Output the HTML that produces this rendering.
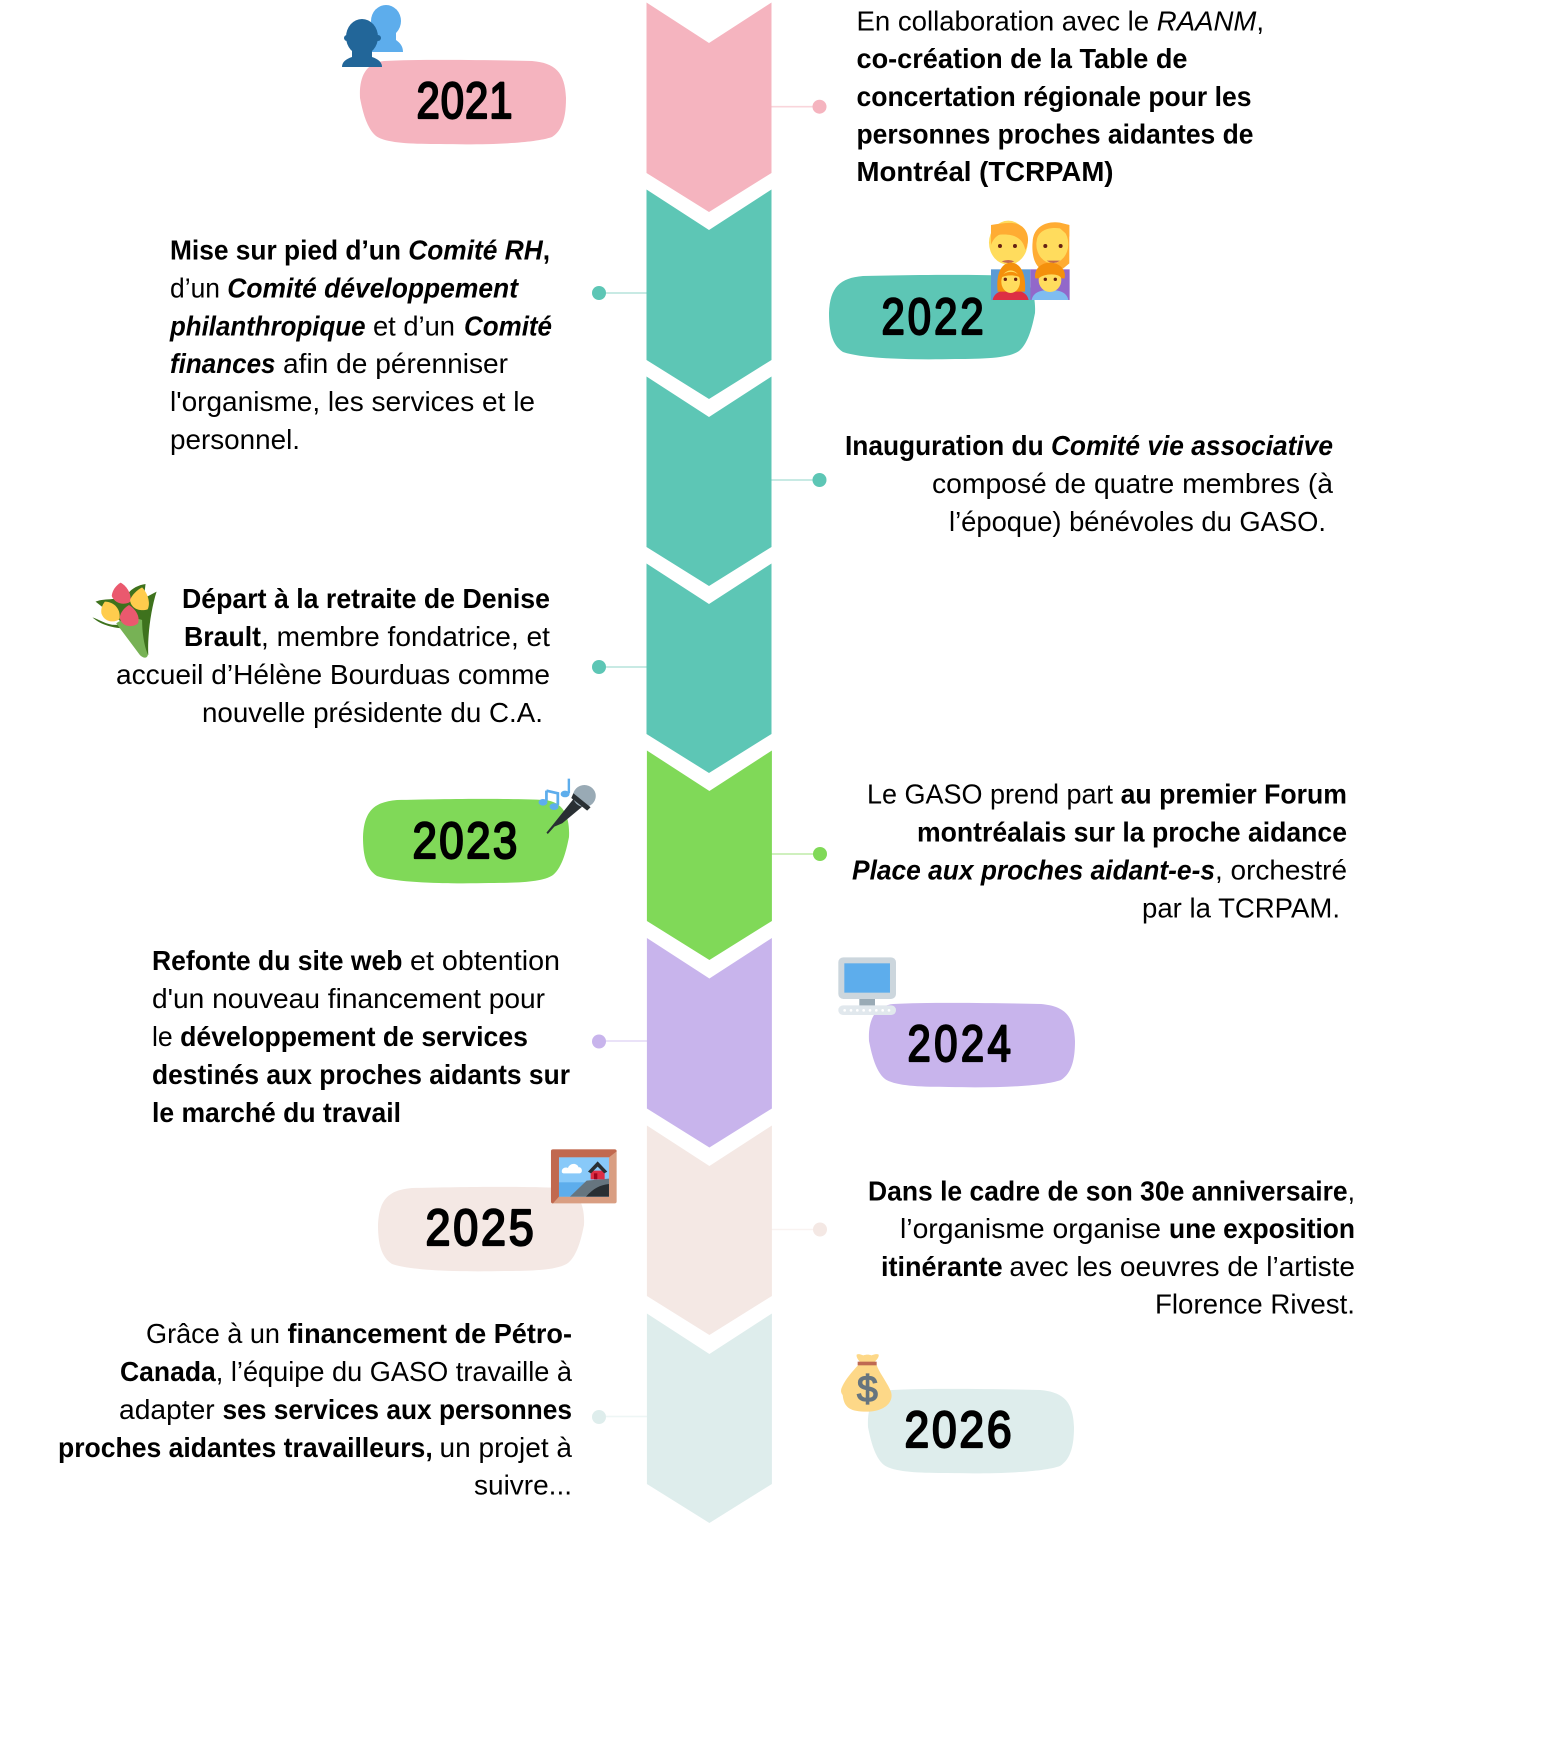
<!DOCTYPE html>
<html lang="fr"><head><meta charset="utf-8"><title>Ligne du temps</title>
<style>
html,body{margin:0;padding:0;background:#fff}
svg{display:block}
.t{font:400 27.5px "Liberation Sans",sans-serif;fill:#000}
.b{font-weight:700}.i{font-style:italic}
.y{font:400 51px "Liberation Sans",sans-serif;fill:#000;stroke:#000;stroke-width:2.2;stroke-linejoin:round}
</style></head><body>
<svg xmlns="http://www.w3.org/2000/svg" width="1545" height="1763" viewBox="0 0 1545 1763">
<defs>
<path id="c" d="M646.5 2.5L709 43L771.5 2.5V173L709 212L646.5 173Z"/>
<path id="p" d="M24 1C60 -1 130 0 172 1C195 3 205 12 206 38C206 56 203 70 192 77C172 84 120 85 80 84C50 84 26 83 16 76C6 68 2 48 0 38C-1 18 5 3 24 1Z"/>
</defs>
<rect width="1545" height="1763" fill="#fff"/>

<!-- connectors -->
<g stroke-width="1.6">
<line x1="771" y1="106.7" x2="819" y2="106.7" stroke="#F9D5DB"/>
<line x1="647" y1="293" x2="599" y2="293" stroke="#B5E4DC"/>
<line x1="771" y1="480" x2="819" y2="480" stroke="#B5E4DC"/>
<line x1="647" y1="667" x2="599" y2="667" stroke="#B5E4DC"/>
<line x1="771" y1="854" x2="819" y2="854" stroke="#BFEBA9"/>
<line x1="647" y1="1041" x2="599" y2="1041" stroke="#E3D9F5"/>
<line x1="771" y1="1229.5" x2="819" y2="1229.5" stroke="#F9F3F1"/>
<line x1="647" y1="1416.5" x2="599" y2="1416.5" stroke="#EEF6F5"/>
</g>
<circle cx="819.5" cy="106.7" r="7" fill="#F5B4BF"/>
<circle cx="599" cy="293" r="7" fill="#5DC6B5"/>
<circle cx="819.5" cy="480" r="7" fill="#5DC6B5"/>
<circle cx="599" cy="667" r="7" fill="#5DC6B5"/>
<circle cx="820" cy="854" r="7" fill="#80D958"/>
<circle cx="599" cy="1041.5" r="7" fill="#C8B4EC"/>
<circle cx="820" cy="1229.5" r="7" fill="#F4E8E4"/>
<circle cx="599" cy="1417" r="7" fill="#DEEDEC"/>

<!-- chevrons -->
<use href="#c" fill="#F5B4BF"/>
<use href="#c" y="187" fill="#5DC6B5"/>
<use href="#c" y="374" fill="#5DC6B5"/>
<use href="#c" y="561" fill="#5DC6B5"/>
<use href="#c" x="0.4" y="748" fill="#80D958"/>
<use href="#c" x="0.4" y="935.5" fill="#C8B4EC"/>
<use href="#c" x="0.4" y="1123" fill="#F4E8E4"/>
<use href="#c" x="0.4" y="1311" fill="#DEEDEC"/>

<!-- pills -->
<use href="#p" transform="translate(360,60)" fill="#F5B4BF"/>
<use href="#p" transform="translate(1035,275) scale(-1,1)" fill="#5DC6B5"/>
<use href="#p" transform="translate(569,799) scale(-1,1)" fill="#80D958"/>
<use href="#p" transform="translate(869,1003)" fill="#C8B4EC"/>
<use href="#p" transform="translate(584,1187) scale(-1,1)" fill="#F4E8E4"/>
<use href="#p" transform="translate(868,1389)" fill="#DEEDEC"/>

<!-- years -->
<text class="y" transform="translate(416.5,118) scale(.82,1)" letter-spacing="1.2">2021</text>
<text class="y" transform="translate(881.5,334) scale(.82,1)" letter-spacing="3.7">2022</text>
<text class="y" transform="translate(412.5,858) scale(.86,1)" letter-spacing="2.8">2023</text>
<text class="y" transform="translate(907.5,1061) scale(.82,1)" letter-spacing="4.2">2024</text>
<text class="y" transform="translate(425.5,1245) scale(.88,1)" letter-spacing="3.2">2025</text>
<text class="y" transform="translate(904.5,1447) scale(.87,1)" letter-spacing="3.2">2026</text>

<!-- text blocks -->
<g transform="translate(0,-1.5)">
<text class="t" x="856.5" y="32" textLength="407.5" lengthAdjust="spacingAndGlyphs">En collaboration avec le <tspan class="i">RAANM</tspan>,</text>
<text class="t b" x="856.5" y="69.7" textLength="331" lengthAdjust="spacingAndGlyphs">co-création de la Table de</text>
<text class="t b" x="856.5" y="107.4" textLength="395" lengthAdjust="spacingAndGlyphs">concertation régionale pour les</text>
<text class="t b" x="856.5" y="145" textLength="397" lengthAdjust="spacingAndGlyphs">personnes proches aidantes de</text>
<text class="t b" x="856.5" y="182.7" textLength="257" lengthAdjust="spacingAndGlyphs">Montréal (TCRPAM)</text>
</g>

<text class="t" x="170" y="259.5" textLength="380" lengthAdjust="spacingAndGlyphs"><tspan class="b">Mise sur pied d’un </tspan><tspan class="b i">Comité RH</tspan><tspan class="b">,</tspan></text>
<text class="t" x="170" y="297.5" textLength="348" lengthAdjust="spacingAndGlyphs">d’un <tspan class="b i">Comité développement</tspan></text>
<text class="t b i" x="170" y="335.5" textLength="195.5" lengthAdjust="spacingAndGlyphs">philanthropique</text>
<text class="t" x="373" y="335.5" textLength="82" lengthAdjust="spacingAndGlyphs">et d’un</text>
<text class="t b i" x="464" y="335.5" textLength="88" lengthAdjust="spacingAndGlyphs">Comité</text>
<text class="t b i" x="170" y="373" textLength="105.5" lengthAdjust="spacingAndGlyphs">finances</text>
<text class="t" x="283" y="373" textLength="225" lengthAdjust="spacingAndGlyphs">afin de pérenniser</text>
<text class="t" x="170" y="411" textLength="365" lengthAdjust="spacingAndGlyphs">l'organisme, les services et le</text>
<text class="t" x="170" y="449" textLength="130" lengthAdjust="spacingAndGlyphs">personnel.</text>

<text class="t" x="845" y="455" textLength="488" lengthAdjust="spacingAndGlyphs"><tspan class="b">Inauguration du </tspan><tspan class="b i">Comité vie associative</tspan></text>
<text class="t" x="932" y="493" textLength="401" lengthAdjust="spacingAndGlyphs">composé de quatre membres (à</text>
<text class="t" x="949" y="531" textLength="377" lengthAdjust="spacingAndGlyphs">l’époque) bénévoles du GASO.</text>

<g transform="translate(0,-1)">
<text class="t b" x="182" y="609" textLength="368" lengthAdjust="spacingAndGlyphs">Départ à la retraite de Denise</text>
<text class="t b" x="184" y="647" textLength="77" lengthAdjust="spacingAndGlyphs">Brault</text>
<text class="t" x="261" y="647" textLength="289" lengthAdjust="spacingAndGlyphs">, membre fondatrice, et</text>
<text class="t" x="116" y="685" textLength="434" lengthAdjust="spacingAndGlyphs">accueil d’Hélène Bourduas comme</text>
<text class="t" x="202" y="723" textLength="341" lengthAdjust="spacingAndGlyphs">nouvelle présidente du C.A.</text>
</g>

<g transform="translate(0,-1)">
<text class="t" x="867" y="804.7" textLength="246" lengthAdjust="spacingAndGlyphs">Le GASO prend part</text>
<text class="t b" x="1120.6" y="804.7" textLength="226.4" lengthAdjust="spacingAndGlyphs">au premier Forum</text>
<text class="t b" x="917" y="842.7" textLength="430" lengthAdjust="spacingAndGlyphs">montréalais sur la proche aidance</text>
<text class="t b i" x="852" y="880.7" textLength="363" lengthAdjust="spacingAndGlyphs">Place aux proches aidant-e-s</text>
<text class="t" x="1215" y="880.7" textLength="132" lengthAdjust="spacingAndGlyphs">, orchestré</text>
<text class="t" x="1142" y="918.5" textLength="198" lengthAdjust="spacingAndGlyphs">par la TCRPAM.</text>
</g>

<g transform="translate(0,-1)">
<text class="t b" x="152" y="971" textLength="250.4" lengthAdjust="spacingAndGlyphs">Refonte du site web</text>
<text class="t" x="410" y="971" textLength="150" lengthAdjust="spacingAndGlyphs">et obtention</text>
<text class="t" x="152" y="1009" textLength="393" lengthAdjust="spacingAndGlyphs">d'un nouveau financement pour</text>
<text class="t" x="152" y="1047" textLength="376" lengthAdjust="spacingAndGlyphs">le <tspan class="b">développement de services</tspan></text>
<text class="t b" x="152" y="1085" textLength="418" lengthAdjust="spacingAndGlyphs">destinés aux proches aidants sur</text>
<text class="t b" x="152" y="1123" textLength="249" lengthAdjust="spacingAndGlyphs">le marché du travail</text>
</g>

<g transform="translate(0,-1)">
<text class="t" x="868" y="1201.5" textLength="487" lengthAdjust="spacingAndGlyphs"><tspan class="b">Dans le cadre de son 30e anniversaire</tspan>,</text>
<text class="t" x="900" y="1239" textLength="261" lengthAdjust="spacingAndGlyphs">l’organisme organise</text>
<text class="t b" x="1169" y="1239" textLength="186" lengthAdjust="spacingAndGlyphs">une exposition</text>
<text class="t b" x="881" y="1277" textLength="121.6" lengthAdjust="spacingAndGlyphs">itinérante</text>
<text class="t" x="1009.4" y="1277" textLength="345.6" lengthAdjust="spacingAndGlyphs">avec les oeuvres de l’artiste</text>
<text class="t" x="1155" y="1314.5" textLength="200" lengthAdjust="spacingAndGlyphs">Florence Rivest.</text>
</g>

<g transform="translate(0,-1)">
<text class="t" x="146" y="1344" textLength="426" lengthAdjust="spacingAndGlyphs">Grâce à un <tspan class="b">financement de Pétro-</tspan></text>
<text class="t b" x="120" y="1382" textLength="95.8" lengthAdjust="spacingAndGlyphs">Canada</text>
<text class="t" x="215.8" y="1382" textLength="356.2" lengthAdjust="spacingAndGlyphs">, l’équipe du GASO travaille à</text>
<text class="t" x="119" y="1420" textLength="95.7" lengthAdjust="spacingAndGlyphs">adapter</text>
<text class="t b" x="222.5" y="1420" textLength="349.5" lengthAdjust="spacingAndGlyphs">ses services aux personnes</text>
<text class="t b" x="58" y="1458" textLength="374.7" lengthAdjust="spacingAndGlyphs">proches aidantes travailleurs,</text>
<text class="t" x="439.5" y="1458" textLength="132.5" lengthAdjust="spacingAndGlyphs">un projet à</text>
<text class="t" x="474" y="1495.5" textLength="98" lengthAdjust="spacingAndGlyphs">suivre...</text>
</g>

<!-- busts -->
<g fill="#5DADEC">
<ellipse cx="386" cy="21" rx="15" ry="16"/>
<path d="M376 32h20v8c4 3 7 6 7 12h-33v-14z"/>
</g>
<g fill="#226699">
<ellipse cx="362" cy="37" rx="16" ry="18"/>
<circle cx="347" cy="38" r="3"/><circle cx="378" cy="38" r="3"/>
<path d="M352 50h20v7c6 2 10 5 10 10h-40c0-5 4-8 10-10z"/>
</g>

<!-- family -->
<g transform="translate(800,200) scale(.3333)">
<rect x="573" y="208" width="118" height="92" fill="#5B9BD5"/>
<rect x="691" y="208" width="118" height="92" fill="#9268CA"/>
<path d="M698 125C700 80 740 62 780 70L808 75V190L790 205H720C700 190 695 155 698 125Z" fill="#FFAC33"/>
<ellipse cx="625" cy="128" rx="58" ry="66" fill="#FFDC5D"/>
<path d="M573 75C610 70 650 60 672 85C690 105 685 135 676 150C670 120 650 100 600 104C590 106 578 120 573 135Z" fill="#FFAC33"/>
<ellipse cx="757" cy="132" rx="48" ry="58" fill="#FFDC5D"/>
<path d="M710 125C712 95 740 80 780 85L808 110V75L780 68C740 62 705 80 700 115Z" fill="#FFAC33"/>
<path d="M605 184q20 -8 38 0q-18 10 -38 0zM740 182h40q-20 14 -40 0z" fill="#C1694F"/>
<circle cx="600" cy="138" r="6" fill="#662113"/><circle cx="645" cy="138" r="6" fill="#662113"/>
<circle cx="736" cy="138" r="6" fill="#662113"/><circle cx="782" cy="138" r="6" fill="#662113"/>
<path d="M578 300c5-25 30-30 54-30s48 5 54 30z" fill="#DD2E44"/>
<path d="M593 275c-6-55 12-87 40-87s46 32 42 87z" fill="#F4900C"/>
<ellipse cx="632" cy="245" rx="28" ry="34" fill="#FFDC5D"/>
<path d="M604 232c5-18 45-25 56 0c-15-8-40-8-56 0z" fill="#F4900C"/>
<path d="M695 300c5-25 30-30 55-30s50 5 55 30z" fill="#7FBCF0"/>
<ellipse cx="750" cy="240" rx="34" ry="36" fill="#FFDC5D"/>
<path d="M706 235c-5-30 20-47 44-47s50 17 44 47l-10 0c-4-16-52-16-68 0z" fill="#F4900C"/>
<circle cx="616" cy="238" r="5" fill="#662113"/><circle cx="647" cy="238" r="5" fill="#662113"/>
<circle cx="736" cy="238" r="5" fill="#662113"/><circle cx="766" cy="238" r="5" fill="#662113"/>
</g>

<!-- tulips -->
<g transform="translate(80,560) scale(.345,.3333)">
<path d="M36 172C60 180 90 205 125 190L45 125C75 112 115 125 140 100C150 85 170 75 190 72L185 115L222 95C205 150 195 230 198 285L130 205C100 205 60 195 36 172Z" fill="#3E721D"/>
<path d="M105 190C130 170 170 175 180 180C180 230 190 270 197 283C195 298 180 295 170 280Z" fill="#77B255"/>
<path d="M118 68C135 78 150 100 146 125C128 138 100 130 92 108C93 92 105 75 118 68Z" fill="#EA596E"/>
<path d="M180 82C197 100 205 130 196 148C176 155 148 148 145 120C150 105 165 90 180 82Z" fill="#FFCC4D"/>
<path d="M72 125C100 125 120 150 114 178C97 190 70 185 62 160C60 145 65 135 72 125Z" fill="#FFCC4D"/>
<path d="M142 135C162 148 175 170 168 190C150 205 120 200 115 172C118 155 130 142 142 135Z" fill="#EA596E"/>
</g>

<!-- mic and notes -->
<g transform="translate(80,560) scale(.345,.3333)">
<path d="M1352 818L1370 795L1432 715L1458 738L1398 790L1375 800L1356 822Z" fill="#292F33"/>
<circle cx="1462" cy="708" r="33" fill="#99AAB5"/>
<path d="M1430 700L1480 742L1470 752L1424 714Z" fill="#292F33"/>
<path d="M1352 692L1385 700V735" fill="none" stroke="#5DADEC" stroke-width="8"/>
<path d="M1352 692V722" fill="none" stroke="#5DADEC" stroke-width="8"/>
<ellipse cx="1342" cy="727" rx="13" ry="10" fill="#5DADEC"/>
<ellipse cx="1374" cy="740" rx="13" ry="10" fill="#5DADEC"/>
<path d="M1417 656V700" stroke="#5DADEC" stroke-width="7"/>
<ellipse cx="1406" cy="702" rx="13" ry="10" fill="#5DADEC"/>
</g>

<!-- monitor -->
<g transform="translate(800,930) scale(.3333)">
<rect x="178" y="205" width="47" height="22" fill="#99AAB5"/>
<rect x="115" y="82" width="173" height="125" rx="15" fill="#CCD6DD"/>
<rect x="133" y="100" width="137" height="88" fill="#5DADEC"/>
<rect x="115" y="226" width="173" height="29" rx="14" fill="#E1E8ED"/>
<g fill="#fff"><circle cx="134" cy="241" r="4"/><circle cx="153" cy="241" r="4"/><circle cx="172" cy="241" r="4"/><circle cx="191" cy="241" r="4"/><circle cx="210" cy="241" r="4"/><circle cx="229" cy="241" r="4"/><circle cx="248" cy="241" r="4"/><circle cx="267" cy="241" r="4"/></g>
</g>

<!-- picture -->
<g transform="translate(360,1120) scale(.3333)">
<rect x="573" y="88" width="197" height="162" rx="6" fill="#D99E82"/>
<path d="M573 94q0-6 6-6h185q6 0 6 6L747 112H597V230L579 250q-6 0-6-6Z" fill="#C1694F"/>
<rect x="597" y="112" width="150" height="118" fill="#88C9F9"/>
<rect x="597" y="187" width="150" height="43" fill="#5DADEC"/>
<path d="M630 230L680 182L747 176V230Z" fill="#66757F"/>
<path d="M678 230C700 205 720 195 747 192V230Z" fill="#292F33"/>
<path d="M606 158c-4-14 12-18 18-14c4-14 26-18 32-2c10-2 14 16 4 18h-50z" fill="#fff"/>
<path d="M692 152h42v26h-42z" fill="#DD2E44"/>
<path d="M684 155L713 124L742 155L733 160L713 140L693 160Z" fill="#292F33"/>
<rect x="702" y="160" width="10" height="18" fill="#A0041E"/>
</g>

<!-- money bag -->
<g transform="translate(800,1320) scale(.3333)">
<path d="M170 104c6-4 14 0 20 2c8-3 18-3 24 0c6-2 16-6 22-2c2 8-8 18-14 24h-40c-6-6-14-16-12-24z" fill="#FDD888"/>
<path d="M175 135h55c6 20 30 50 42 78c12 30-15 62-72 62c-50 0-68-12-72-50c-8-10-5-18 0-28c8-18 28-42 47-62z" fill="#FDD888"/>
<rect x="173" y="125" width="57" height="11" fill="#BF6952"/>
<text x="202" y="244" text-anchor="middle" font-family="'Liberation Sans',sans-serif" font-size="112" fill="#67757F" stroke="#67757F" stroke-width="4">$</text>
</g>
</svg>
</body></html>
